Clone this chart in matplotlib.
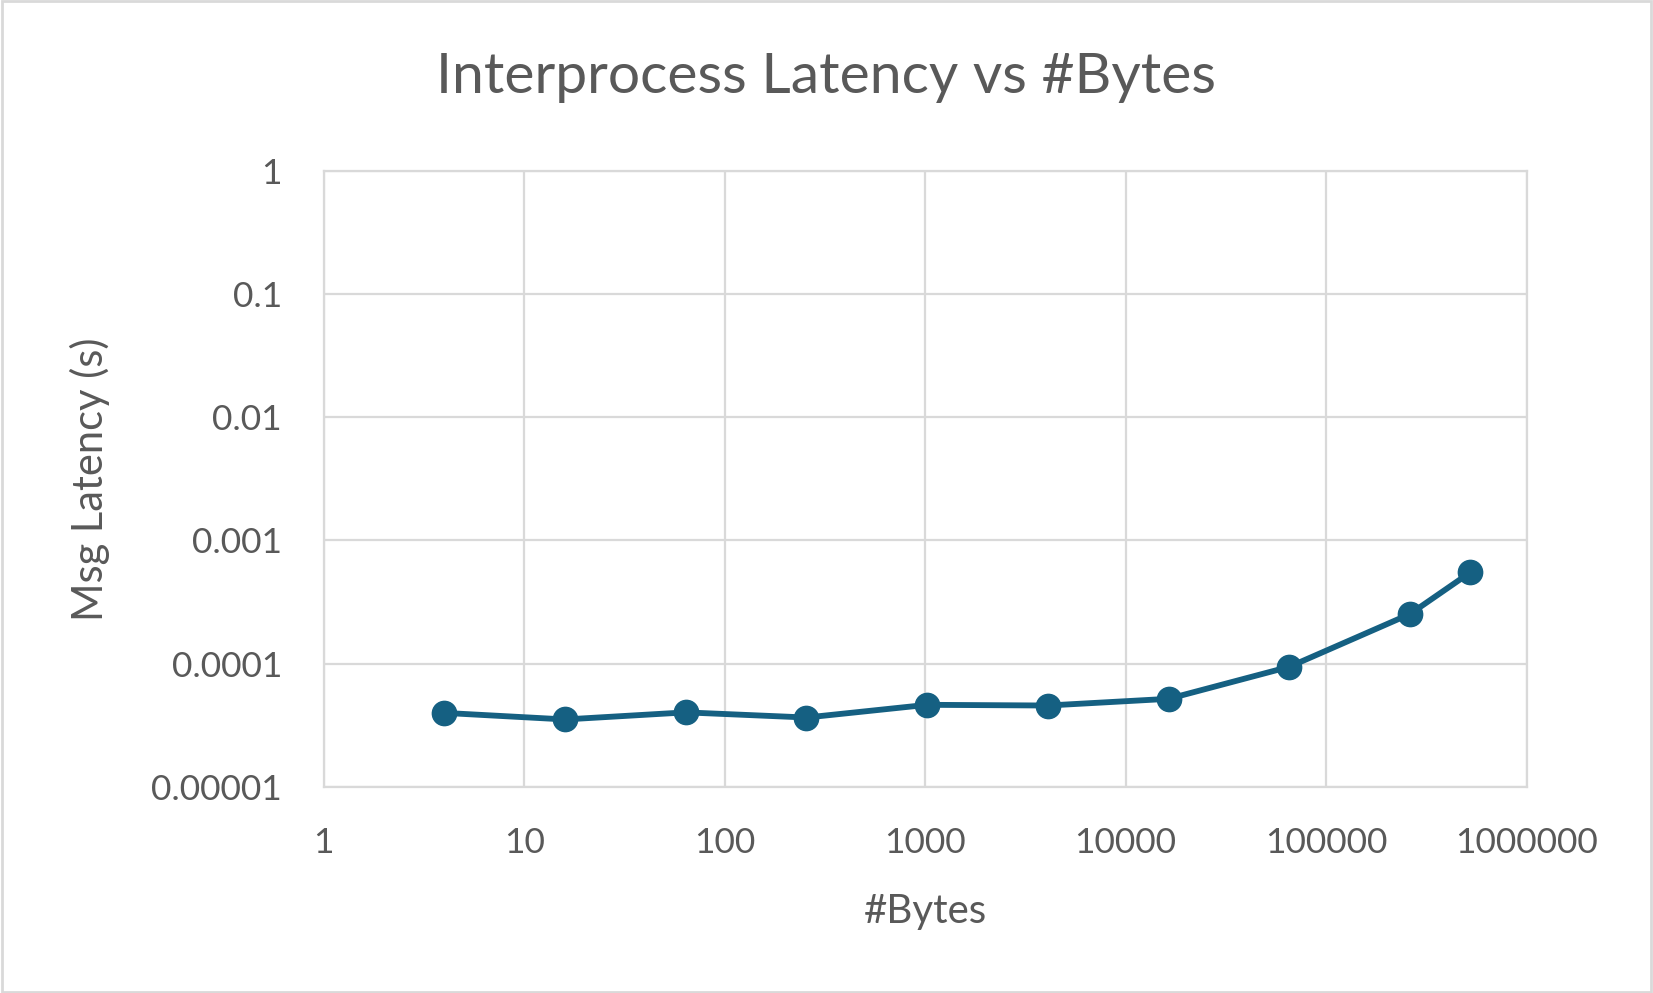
import matplotlib
matplotlib.use("Agg")
import matplotlib.pyplot as plt
from matplotlib.patches import Rectangle
from matplotlib.ticker import FixedLocator, FixedFormatter, NullLocator

bytes_sent = [4, 16, 64, 256, 1024, 4096, 16384, 65536, 262144, 524288]
latency_s = [3.99e-5, 3.53e-5, 4.03e-5, 3.66e-5, 4.64e-5, 4.58e-5, 5.19e-5,
             9.44e-5, 2.53e-4, 5.51e-4]
x_ticks = [1, 10, 100, 1000, 10000, 100000, 1000000]
x_tick_labels = ["1", "10", "100", "1000", "10000", "100000", "1000000"]
y_ticks = [1e-5, 1e-4, 1e-3, 1e-2, 1e-1, 1]
y_tick_labels = ["0.00001", "0.0001", "0.001", "0.01", "0.1", "1"]

plt.rcParams['font.family'] = ['Lato', 'DejaVu Sans']
text_color = "#595959"
grid_color = "#D9D9D9"
line_color = "#156082"

fig = plt.figure(figsize=(16.53, 9.93), dpi=100)
fig.patches.append(Rectangle((0.001, 0.001), 0.998, 0.998, transform=fig.transFigure,
                             fill=False, edgecolor=grid_color, linewidth=2))
ax = fig.add_axes([0.1958, 0.2075, 0.7277, 0.6205])
ax.set_xscale('log')
ax.set_yscale('log')
ax.set_xlim(1, 1000000)
ax.set_ylim(1e-5, 1)

ax.plot(bytes_sent, latency_s, color=line_color, linewidth=4.2, marker='o',
        markersize=17.5, zorder=3, clip_on=False)

ax.xaxis.set_major_locator(FixedLocator(x_ticks))
ax.xaxis.set_major_formatter(FixedFormatter(x_tick_labels))
ax.xaxis.set_minor_locator(NullLocator())
ax.yaxis.set_major_locator(FixedLocator(y_ticks))
ax.yaxis.set_major_formatter(FixedFormatter(y_tick_labels))
ax.yaxis.set_minor_locator(NullLocator())

ax.grid(True, color=grid_color, linewidth=1.6)
for s in ax.spines.values():
    s.set_color(grid_color)
    s.set_linewidth(1.6)
ax.tick_params(axis='both', length=0, labelsize=25.5, colors=text_color)
ax.tick_params(axis='x', pad=29)
ax.tick_params(axis='y', pad=30)

ax.set_xlabel("#Bytes", fontsize=29, color=text_color, labelpad=24)
ax.set_ylabel("Msg Latency (s)", fontsize=30, color=text_color, labelpad=30)
fig.text(0.5, 0.922, "Interprocess Latency vs #Bytes", ha='center', va='center',
         fontsize=41, color=text_color)

fig.savefig("out.png", dpi=100)
